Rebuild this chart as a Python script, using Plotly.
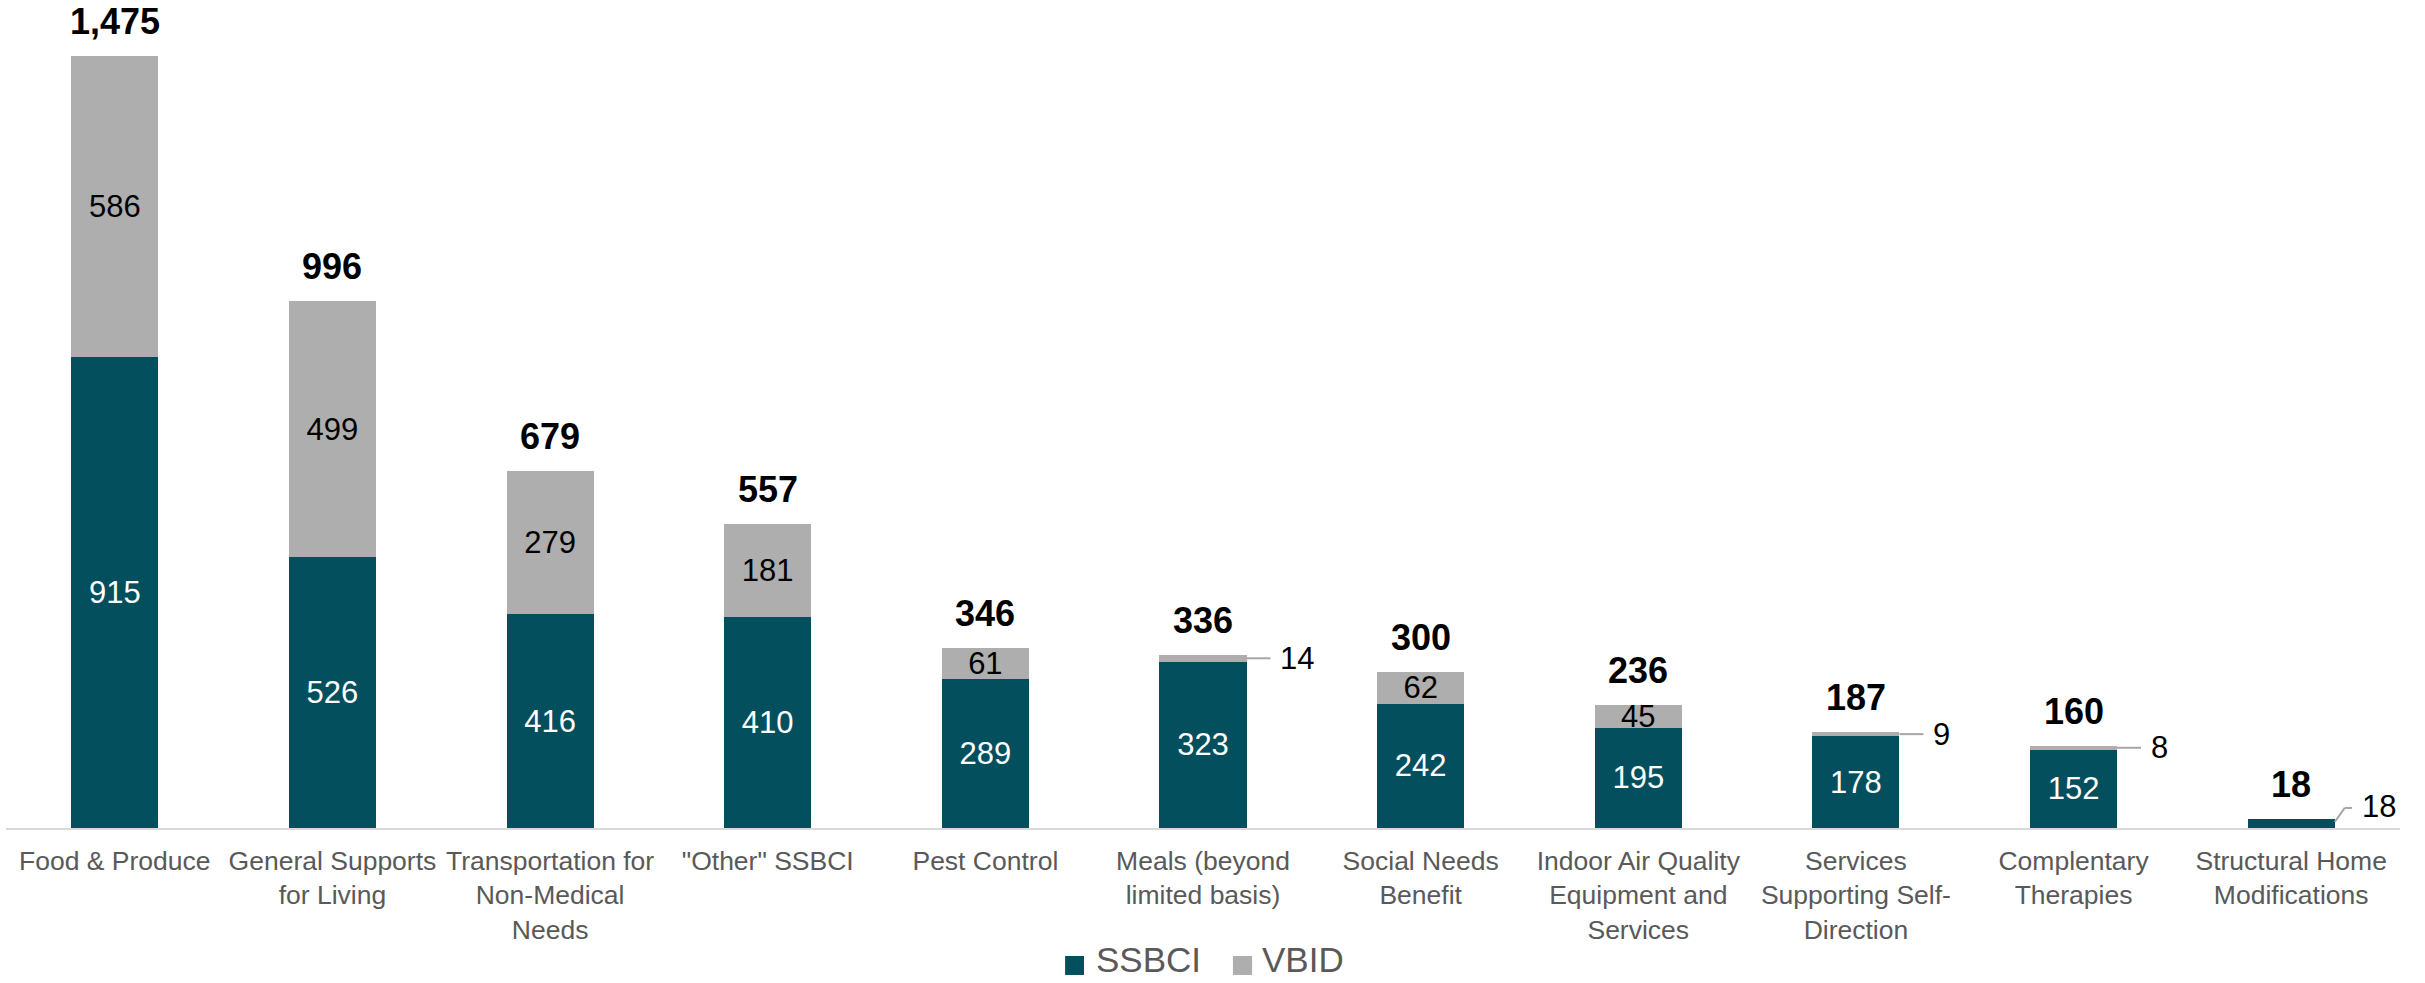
import plotly.graph_objects as go

categories = [
    "Food & Produce",
    "General Supports<br>for Living",
    "Transportation for<br>Non-Medical<br>Needs",
    "\"Other\" SSBCI",
    "Pest Control",
    "Meals (beyond<br>limited basis)",
    "Social Needs<br>Benefit",
    "Indoor Air Quality<br>Equipment and<br>Services",
    "Services<br>Supporting Self-<br>Direction",
    "Complentary<br>Therapies",
    "Structural Home<br>Modifications",
]
series_names = ["SSBCI", "VBID"]
ssbci = [915, 526, 416, 410, 289, 323, 242, 195, 178, 152, 18]
vbid = [586, 499, 279, 181, 61, 14, 62, 45, 9, 8, 0]
totals = [1475, 996, 679, 557, 346, 336, 300, 236, 187, 160, 18]

TEAL = "#034F5E"
GRAY = "#AEAEAE"
FONT = "Liberation Sans, Arial, sans-serif"
SMALL = 30  # segments below this get an outside callout

xs = list(range(len(categories)))
ssbci_text = [str(v) if v >= SMALL else "" for v in ssbci]
vbid_text = [str(v) if v >= SMALL else "" for v in vbid]

fig = go.Figure()
fig.add_trace(go.Bar(
    x=xs, y=ssbci, name=series_names[0], marker=dict(color=TEAL, line=dict(width=0)),
    text=ssbci_text, textposition="inside", insidetextanchor="middle", textangle=0,
    textfont=dict(color="white", size=31, family=FONT), cliponaxis=False,
))
fig.add_trace(go.Bar(
    x=xs, y=vbid, name=series_names[1], marker=dict(color=GRAY, line=dict(width=0)),
    text=vbid_text, textposition="inside", insidetextanchor="middle", textangle=0,
    textfont=dict(color="black", size=31, family=FONT), cliponaxis=False,
))

annotations = []
shapes = []
for i in xs:
    top = ssbci[i] + vbid[i]
    annotations.append(dict(
        x=i, y=top, text=f"<b>{totals[i]:,}</b>", showarrow=False,
        yanchor="bottom", yshift=12, font=dict(size=36, color="black", family=FONT),
    ))
    if 0 < vbid[i] < SMALL:
        ym = ssbci[i] + vbid[i] / 2
        shapes.append(dict(type="line", x0=i + 0.2, x1=i + 0.31, y0=ym, y1=ym,
                           line=dict(color="#A6A6A6", width=2)))
        annotations.append(dict(x=i + 0.345, y=ym, text=str(vbid[i]), showarrow=False,
                                xanchor="left", yanchor="middle",
                                font=dict(size=31, color="black", family=FONT)))
    elif vbid[i] == 0 and ssbci[i] < SMALL:
        y0 = ssbci[i] * 0.65
        y1 = ssbci[i] + 21
        shapes.append(dict(type="line", x0=i + 0.2, x1=i + 0.246, y0=y0, y1=y1,
                           line=dict(color="#A6A6A6", width=2)))
        shapes.append(dict(type="line", x0=i + 0.246, x1=i + 0.28, y0=y1, y1=y1,
                           line=dict(color="#A6A6A6", width=2)))
        annotations.append(dict(x=i + 0.318, y=y1 + 2, text=str(ssbci[i]), showarrow=False,
                                xanchor="left", yanchor="middle",
                                font=dict(size=31, color="black", family=FONT)))

# legend drawn below the axis (paper coordinates)
for name, col, sx0, sx1, tx in ((series_names[0], TEAL, 0.4424, 0.4503, 0.4545),
                                (series_names[1], GRAY, 0.5125, 0.5205, 0.5238)):
    shapes.append(dict(type="rect", xref="paper", yref="paper", x0=sx0, x1=sx1,
                       y0=-0.1775, y1=-0.1546, fillcolor=col, line=dict(width=0)))
    annotations.append(dict(xref="paper", yref="paper", x=tx, y=-0.1585, text=name,
                            showarrow=False, xanchor="left", yanchor="middle",
                            font=dict(size=35, color="#595959", family=FONT)))

fig.update_layout(
    barmode="stack",
    bargap=0.6,
    width=2425, height=983,
    margin=dict(l=6, r=25, t=0, b=155),
    plot_bgcolor="white", paper_bgcolor="white",
    font=dict(family=FONT),
    uniformtext=dict(minsize=31, mode="show"),
    showlegend=False,
    annotations=annotations,
    shapes=shapes,
)
fig.update_xaxes(
    range=[-0.5, len(categories) - 0.5], tickvals=xs, ticktext=categories,
    showline=True, linecolor="#D9D9D9", linewidth=2, showgrid=False, zeroline=False,
    ticks="", tickfont=dict(size=26.5, color="#595959", family=FONT), ticklabelstandoff=8,
    automargin=False,
)
fig.update_yaxes(range=[0, 1610], visible=False, showgrid=False, zeroline=False)

fig.write_html("out.html")
